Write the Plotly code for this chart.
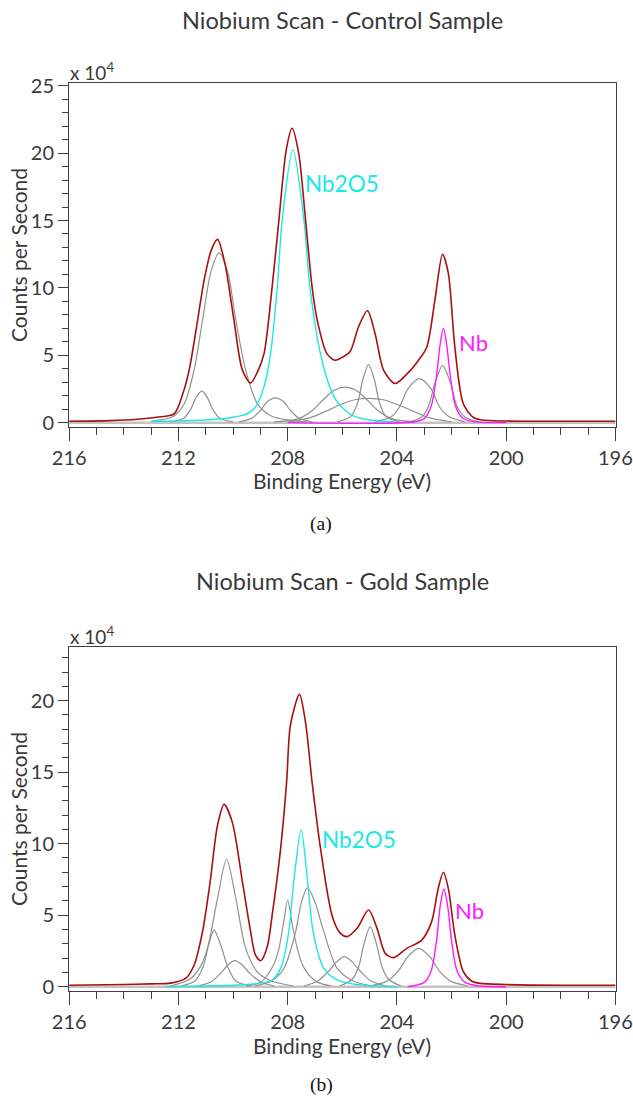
import plotly.graph_objects as go

# ---------------- DATA ----------------
# Binding energy (eV) / counts per second (x 10^4)

# (a) Control sample
ctrl_env_x = [216.0, 214.5, 213.5, 212.8, 212.16, 211.85, 211.61, 211.3, 211.06, 210.8, 210.57, 210.3,
              209.97, 209.66, 209.36, 209.1, 208.87, 208.57, 208.32, 208.05, 207.84, 207.6, 207.35, 207.11,
              206.92, 206.56, 206.26, 206.0, 205.71, 205.41, 205.08, 204.8, 204.49, 204.07, 203.64, 203.22,
              202.91, 202.61, 202.33, 202.12, 201.88, 201.57, 201.21, 200.9, 200.0, 198.0, 196.0]
ctrl_env_y = [0.1, 0.15, 0.25, 0.4, 0.65, 2.1, 3.9, 7.6, 10.6, 12.8, 13.6, 11.8,
              7.6, 3.9, 2.95, 3.8, 5.1, 10.1, 15.1, 20.3, 21.84, 20.0, 15.1, 10.1,
              7.6, 5.1, 4.63, 4.85, 5.3, 7.1, 8.3, 6.6, 3.9, 2.9, 3.6, 4.6,
              5.6, 9.1, 12.5, 11.1, 5.6, 1.4, 0.4, 0.2, 0.12, 0.1, 0.1]

ctrl_nb2o5_x = [213.0, 211.0, 210.0, 209.4, 209.11, 208.85, 208.63, 208.38, 208.2, 207.81, 207.41,
                207.19, 206.8, 206.45, 206.14, 205.6, 205.0, 204.0]
ctrl_nb2o5_y = [0.1, 0.2, 0.4, 0.75, 1.4, 2.8, 5.1, 10.1, 15.1, 20.25, 15.1,
                10.1, 5.1, 2.6, 1.4, 0.5, 0.2, 0.05]

ctrl_nb_x = [208.0, 203.4, 203.0, 202.75, 202.55, 202.42, 202.3, 202.18, 202.05, 201.85, 201.6, 201.2, 200.0]
ctrl_nb_y = [0.0, 0.05, 0.3, 1.2, 3.5, 5.8, 7.0, 5.8, 3.5, 1.2, 0.35, 0.08, 0.0]

ctrl_g1_x = [213.0, 212.2, 211.79, 211.43, 211.12, 210.8, 210.51, 210.2, 209.9, 209.54, 209.11, 208.6, 208.0, 207.3]
ctrl_g1_y = [0.1, 0.45, 1.4, 3.9, 7.6, 11.3, 12.6, 11.2, 7.6, 3.9, 1.4, 0.5, 0.2, 0.05]
ctrl_g2_x = [212.3, 211.8, 211.55, 211.35, 211.15, 210.95, 210.75, 210.5, 210.0]
ctrl_g2_y = [0.05, 0.35, 1.0, 1.9, 2.34, 1.9, 1.0, 0.35, 0.05]
ctrl_g3_x = [209.8, 209.3, 209.0, 208.75, 208.45, 208.15, 207.9, 207.6, 207.1]
ctrl_g3_y = [0.05, 0.35, 0.9, 1.55, 1.84, 1.55, 0.9, 0.35, 0.05]
ctrl_g4_x = [208.5, 207.6, 207.1, 206.7, 206.3, 205.89, 205.5, 205.1, 204.7, 204.2, 203.3]
ctrl_g4_y = [0.05, 0.3, 0.9, 1.7, 2.4, 2.64, 2.4, 1.7, 0.9, 0.3, 0.05]
ctrl_g5_x = [206.2, 205.7, 205.45, 205.25, 205.04, 204.83, 204.63, 204.4, 203.9]
ctrl_g5_y = [0.05, 0.45, 1.4, 3.2, 4.3, 3.2, 1.4, 0.45, 0.05]
ctrl_g6_x = [208.0, 207.2, 206.6, 206.0, 205.5, 205.0, 204.5, 204.0, 203.4, 202.8, 202.0]
ctrl_g6_y = [0.05, 0.35, 0.85, 1.4, 1.72, 1.8, 1.7, 1.35, 0.85, 0.35, 0.05]
ctrl_g7_x = [204.8, 204.2, 203.9, 203.6, 203.18, 202.75, 202.45, 202.1, 201.5]
ctrl_g7_y = [0.05, 0.45, 1.2, 2.5, 3.26, 2.5, 1.2, 0.45, 0.05]
ctrl_g8_x = [203.6, 203.1, 202.85, 202.6, 202.33, 202.05, 201.8, 201.5, 201.0]
ctrl_g8_y = [0.05, 0.4, 1.2, 3.0, 4.25, 3.0, 1.2, 0.4, 0.05]

# (b) Gold sample
gold_env_x = [216.0, 214.0, 213.0, 212.28, 211.73, 211.43, 211.12, 210.84, 210.57, 210.33, 210.03,
              209.66, 209.36, 209.18, 208.99, 208.75, 208.57, 208.26, 208.04, 207.9, 207.57, 207.35,
              207.11, 206.8, 206.38, 206.1, 205.83, 205.46, 205.04, 204.73, 204.43, 204.13, 203.64,
              203.09, 202.73, 202.49, 202.3, 202.12, 201.88, 201.57, 201.27, 200.96, 200.0, 198.0, 196.0]
gold_env_y = [0.1, 0.15, 0.2, 0.25, 0.6, 1.5, 3.85, 7.34, 11.3, 12.75, 11.5,
              7.34, 3.85, 2.2, 1.82, 2.8, 5.0, 9.67, 14.34, 18.3, 20.44, 18.5,
              14.34, 9.67, 5.0, 3.8, 3.5, 4.08, 5.36, 4.08, 2.33, 2.03, 2.68,
              3.26, 4.55, 6.87, 8.0, 6.87, 3.6, 1.05, 0.4, 0.23, 0.15, 0.1, 0.1]

gold_nb2o5_x = [212.5, 210.0, 209.0, 208.57, 208.26, 207.96, 207.78, 207.51, 207.27, 207.07, 206.68,
                206.19, 205.5, 204.0]
gold_nb2o5_y = [0.0, 0.1, 0.25, 0.47, 1.28, 3.85, 7.34, 10.96, 7.34, 3.85, 1.28,
                0.47, 0.15, 0.0]

gold_nb_x = [203.6, 203.0, 202.75, 202.55, 202.42, 202.28, 202.14, 202.0, 201.8, 201.5, 201.0, 200.0]
gold_nb_y = [0.0, 0.3, 1.1, 3.2, 5.6, 6.83, 5.6, 3.2, 1.1, 0.3, 0.05, 0.0]

gold_g1_x = [212.3, 211.6, 211.2, 210.94, 210.57, 210.24, 209.9, 209.54, 209.1, 208.6, 207.8]
gold_g1_y = [0.05, 0.5, 1.4, 2.68, 6.17, 8.93, 6.17, 2.68, 1.0, 0.4, 0.05]
gold_g2_x = [211.9, 211.4, 211.1, 210.9, 210.7, 210.45, 210.2, 209.9, 209.4]
gold_g2_y = [0.05, 0.4, 1.4, 2.9, 3.96, 2.9, 1.4, 0.4, 0.05]
gold_g3_x = [211.3, 210.8, 210.45, 210.2, 209.94, 209.65, 209.4, 209.0, 208.5]
gold_g3_y = [0.05, 0.35, 0.95, 1.5, 1.82, 1.5, 0.95, 0.35, 0.05]
gold_g4_x = [209.5, 209.0, 208.75, 208.5, 208.32, 208.15, 208.0, 207.85, 207.65, 207.45, 207.23, 206.9, 206.4]
gold_g4_y = [0.05, 0.3, 0.8, 1.6, 2.68, 4.5, 6.06, 4.5, 2.68, 1.5, 0.82, 0.3, 0.05]
gold_g5_x = [209.2, 208.6, 208.14, 207.71, 207.5, 207.27, 207.0, 206.68, 206.19, 205.6, 204.9]
gold_g5_y = [0.05, 0.4, 1.28, 3.85, 5.9, 6.92, 5.9, 3.85, 1.28, 0.4, 0.05]
gold_g6_x = [207.4, 206.9, 206.5, 206.2, 205.93, 205.65, 205.35, 204.95, 204.4]
gold_g6_y = [0.05, 0.4, 1.1, 1.75, 2.1, 1.75, 1.1, 0.4, 0.05]
gold_g7_x = [206.1, 205.65, 205.4, 205.22, 204.98, 204.74, 204.55, 204.3, 203.85]
gold_g7_y = [0.05, 0.5, 1.4, 2.9, 4.2, 2.9, 1.4, 0.5, 0.05]
gold_g8_x = [205.0, 204.35, 203.95, 203.6, 203.21, 202.8, 202.45, 202.05, 201.4]
gold_g8_y = [0.05, 0.4, 1.1, 2.1, 2.68, 2.1, 1.1, 0.4, 0.05]

baseline_x = [216.0, 196.0]
baseline_y = [0.0, 0.0]

x_ticks = [216, 212, 208, 204, 200, 196]
y_ticks = [0, 5, 10, 15, 20, 25]

titles = ["Niobium Scan - Control Sample", "Niobium Scan - Gold Sample"]
captions = ["(a)", "(b)"]
x_title = "Binding Energy (eV)"
y_title = "Counts per Second"

# ---------------- STYLE ----------------
W, H = 633, 1097
FONT = "Lato, Open Sans, sans-serif"
TXT = "#3a3a3a"
ENV_C = "#a80f0f"
GRAY_C = "#909090"
CYAN_C = "#1ae8e8"
MAG_C = "#ff1aff"


def py2paper(py):
    return 1 - py / H


def px2paper(px):
    return px / W


panels = [
    dict(env=(ctrl_env_x, ctrl_env_y), nb2o5=(ctrl_nb2o5_x, ctrl_nb2o5_y), nb=(ctrl_nb_x, ctrl_nb_y),
         grays=[(ctrl_g1_x, ctrl_g1_y), (ctrl_g2_x, ctrl_g2_y), (ctrl_g3_x, ctrl_g3_y), (ctrl_g4_x, ctrl_g4_y),
                (ctrl_g5_x, ctrl_g5_y), (ctrl_g6_x, ctrl_g6_y), (ctrl_g7_x, ctrl_g7_y), (ctrl_g8_x, ctrl_g8_y)],
         top=83.3, bottom=426.7, yrange=[-0.3, 25.18],
         nb2o5_lab=(207.36, 17.77), nb_lab=(201.73, 5.92),
         title_y=20, exp_y=71, cap_y=524, xlab_y=481),
    dict(env=(gold_env_x, gold_env_y), nb2o5=(gold_nb2o5_x, gold_nb2o5_y), nb=(gold_nb_x, gold_nb_y),
         grays=[(gold_g1_x, gold_g1_y), (gold_g2_x, gold_g2_y), (gold_g3_x, gold_g3_y), (gold_g4_x, gold_g4_y),
                (gold_g5_x, gold_g5_y), (gold_g6_x, gold_g6_y), (gold_g7_x, gold_g7_y), (gold_g8_x, gold_g8_y)],
         top=647.3, bottom=990.7, yrange=[-0.28, 23.73],
         nb2o5_lab=(206.75, 10.26), nb_lab=(201.88, 5.36),
         title_y=581, exp_y=635, cap_y=1085, xlab_y=1045),
]

fig = go.Figure()
annotations = []
layout_axes = {}
x0, x1 = px2paper(69), px2paper(615.7)

for i, p in enumerate(panels):
    n = "" if i == 0 else str(i + 1)
    xa, ya = "x" + n, "y" + n
    common = dict(xaxis=xa, yaxis=ya, mode="lines", showlegend=False, hoverinfo="skip")
    fig.add_trace(go.Scatter(x=baseline_x, y=baseline_y, line=dict(color="#c4c4c4", width=2.5), **common))
    for gx, gy in p["grays"]:
        fig.add_trace(go.Scatter(x=gx, y=gy, line=dict(color=GRAY_C, width=1.2, shape="spline", smoothing=0.8), **common))
    fig.add_trace(go.Scatter(x=p["nb2o5"][0], y=p["nb2o5"][1],
                             line=dict(color=CYAN_C, width=1.4, shape="spline", smoothing=0.8), **common))
    fig.add_trace(go.Scatter(x=p["nb"][0], y=p["nb"][1],
                             line=dict(color=MAG_C, width=1.4, shape="spline", smoothing=0.8), **common))
    fig.add_trace(go.Scatter(x=p["env"][0], y=p["env"][1],
                             line=dict(color=ENV_C, width=1.6, shape="spline", smoothing=0.8), **common))

    ydom = [py2paper(p["bottom"]), py2paper(p["top"])]
    layout_axes["xaxis" + n] = dict(
        domain=[x0, x1], anchor=ya, range=[216.01, 195.99], tickvals=x_ticks, automargin=False,
        ticks="outside", ticklen=13, tickcolor="#404040", tickwidth=1,
        minor=dict(dtick=1, tick0=196, ticks="outside", ticklen=7, tickcolor="#404040", tickwidth=1),
        showline=True, linecolor="#404040", linewidth=1, mirror=True,
        showgrid=False, zeroline=False,
        tickfont=dict(family=FONT, size=20, color=TXT),
    )
    layout_axes["yaxis" + n] = dict(
        domain=ydom, anchor=xa, range=p["yrange"], tickvals=y_ticks, automargin=False,
        ticks="outside", ticklen=10, tickcolor="#404040", tickwidth=1,
        minor=dict(dtick=1, tick0=0, ticks="outside", ticklen=6, tickcolor="#404040", tickwidth=1),
        showline=True, linecolor="#404040", linewidth=1, mirror=True,
        showgrid=False, zeroline=False,
        tickfont=dict(family=FONT, size=20, color=TXT),
    )

    annotations += [
        dict(text=titles[i], x=(x0 + x1) / 2, y=py2paper(p["title_y"]), xref="paper", yref="paper",
             showarrow=False, font=dict(family=FONT, size=23.5, color=TXT), xanchor="center", yanchor="middle"),
        dict(text="x 10<sup>4</sup>", x=px2paper(68), y=py2paper(p["exp_y"]), xref="paper", yref="paper",
             showarrow=False, font=dict(family=FONT, size=19, color=TXT), xanchor="left", yanchor="middle"),
        dict(text=x_title, x=(x0 + x1) / 2, y=py2paper(p["xlab_y"]), xref="paper", yref="paper",
             showarrow=False, font=dict(family=FONT, size=21, color=TXT), xanchor="center", yanchor="middle"),
        dict(text=y_title, x=px2paper(18), y=(ydom[0] + ydom[1]) / 2, xref="paper", yref="paper", textangle=-90,
             showarrow=False, font=dict(family=FONT, size=21, color=TXT), xanchor="center", yanchor="middle"),
        dict(text=captions[i], x=px2paper(321), y=py2paper(p["cap_y"]), xref="paper", yref="paper",
             showarrow=False, font=dict(family="Liberation Serif, serif", size=19.5, color="#111"),
             xanchor="center", yanchor="middle"),
        dict(text="Nb2O5", x=p["nb2o5_lab"][0], y=p["nb2o5_lab"][1], xref=xa, yref=ya,
             showarrow=False, font=dict(family=FONT, size=22.5, color=CYAN_C), xanchor="left", yanchor="middle",
             xshift=-2),
        dict(text="Nb", x=p["nb_lab"][0], y=p["nb_lab"][1], xref=xa, yref=ya,
             showarrow=False, font=dict(family=FONT, size=22, color=MAG_C), xanchor="left", yanchor="middle",
             xshift=-2),
    ]

fig.update_layout(
    template="none",
    width=W, height=H, margin=dict(l=0, r=0, t=0, b=0, pad=0),
    paper_bgcolor="white", plot_bgcolor="white",
    font=dict(family=FONT, color=TXT),
    annotations=annotations, **layout_axes,
)

# remove the page's default body margin so the 633x1097 figure fills the window exactly
fig.write_html(
    "out.html",
    config={"displayModeBar": False, "staticPlot": True},
    post_script="document.body.style.margin='0';document.body.style.overflow='hidden';",
)
